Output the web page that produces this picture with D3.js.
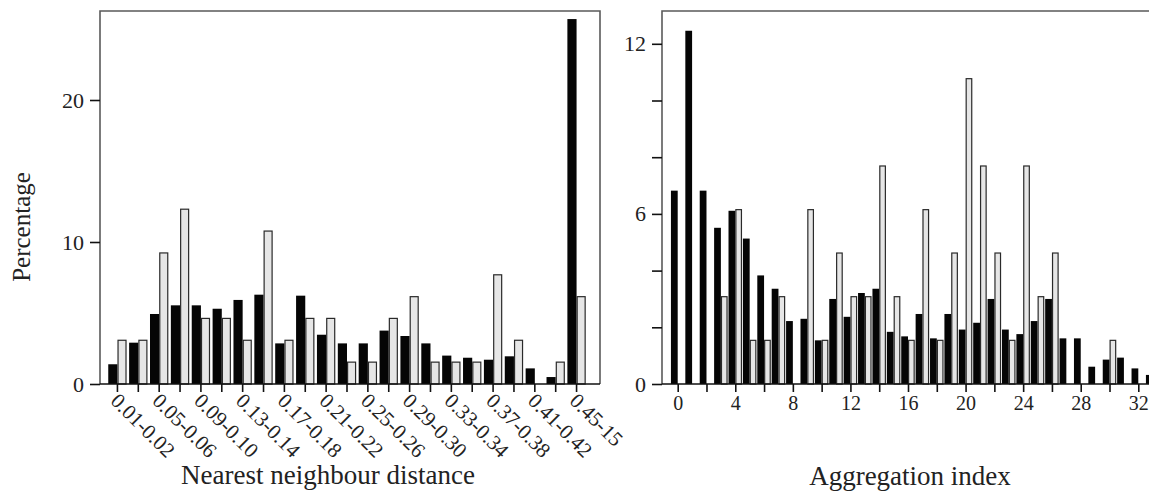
<!DOCTYPE html>
<html>
<head>
<meta charset="utf-8">
<script src="https://cdn.jsdelivr.net/npm/d3@7"></script>
<style>
    body { margin: 0; background: #fff; }
    svg { display: block; font-family: "Liberation Serif", "Times New Roman", serif; }
    .domain { display: none; }
</style>
</head>
<body>
<div id="container"></div>
<script>
// nearest neighbour distance classes (left panel)
var nndCategories = ["0.01-0.02", "0.03-0.04", "0.05-0.06", "0.07-0.08", "0.09-0.10", "0.11-0.12",
    "0.13-0.14", "0.15-0.16", "0.17-0.18", "0.19-0.20", "0.21-0.22", "0.23-0.24", "0.25-0.26",
    "0.27-0.28", "0.29-0.30", "0.31-0.32", "0.33-0.34", "0.35-0.36", "0.37-0.38", "0.39-0.40",
    "0.41-0.42", "0.43-0.44", "0.45-15"];
var nndBlack = [1.39, 2.91, 4.93, 5.54, 5.54, 5.30, 5.92, 6.29, 2.86, 6.22, 3.47, 2.86, 2.86,
    3.76, 3.38, 2.86, 2.00, 1.85, 1.71, 1.95, 1.10, 0.49, 25.7];
var nndGrey = [3.08, 3.08, 9.23, 12.31, 4.62, 4.62, 3.08, 10.77, 3.08, 4.62, 4.62, 1.54, 1.54,
    4.62, 6.15, 1.54, 1.54, 1.54, 7.69, 3.08, 0, 1.54, 6.15];
var nndTicks = [0, 10, 20];

// aggregation index (right panel)
var aggIndex = d3.range(0, 34);
var aggBlack = [6.82, 12.46, 6.82, 5.51, 6.11, 5.13, 3.83, 3.36, 2.22, 2.30, 1.54, 3.00, 2.37,
    3.21, 3.36, 1.84, 1.68, 2.47, 1.61, 2.47, 1.92, 2.16, 3.00, 1.92, 1.76, 2.22, 3.00, 1.61,
    1.61, 0.61, 0.86, 0.93, 0.55, 0.32];
var aggGrey = [0, 0, 0, 3.08, 6.15, 1.54, 1.54, 3.08, 0, 6.15, 1.54, 4.62, 3.08, 3.08, 7.69,
    3.08, 1.54, 6.15, 1.54, 4.62, 10.77, 7.69, 4.62, 1.54, 7.69, 3.08, 4.62, 0, 0, 0, 1.54, 0, 0, 0];
var aggYTicks = [0, 2, 4, 6, 8, 10, 12];
var aggXTicks = d3.range(0, 34, 2);

var width = 1149;
var height = 498;
var plotTop = 11, plotBottom = 384;

var svg = d3.select("#container")
    .append("svg")
    .attr("width", width)
    .attr("height", height);

// ---------- left panel ----------
var left = {x0: 100, x1: 600};

var xL = d3.scaleBand()
    .domain(nndCategories)
    .range([107, 587])
    .paddingInner(0.12)
    .paddingOuter(0.06);
var xSub = d3.scaleBand()
    .domain(["black", "grey"])
    .range([0, xL.bandwidth()]);
var yL = d3.scaleLinear()
    .domain([0, (plotBottom - plotTop) / 14.2])
    .range([plotBottom, plotTop]);

var nndRows = nndCategories.map((c, i) => ({cat: c, black: nndBlack[i], grey: nndGrey[i]}));

var gL = svg.append("g");
var pairL = gL.selectAll("g.pair")
    .data(nndRows)
    .enter()
    .append("g")
    .attr("class", "pair")
    .attr("transform", d => "translate(" + xL(d.cat) + ",0)");
pairL.append("rect")
    .attr("x", xSub("black"))
    .attr("y", d => yL(d.black))
    .attr("width", xSub.bandwidth())
    .attr("height", d => yL(0) - yL(d.black))
    .attr("fill", "#050505");
pairL.filter(d => d.grey > 0).append("rect")
    .attr("x", xSub("grey") + 0.6)
    .attr("y", d => yL(d.grey))
    .attr("width", xSub.bandwidth() - 1.2)
    .attr("height", d => yL(0) - yL(d.grey))
    .attr("fill", "#e6e6e6")
    .attr("stroke", "#2a2a2a")
    .attr("stroke-width", 1.2);

// frame
gL.append("path")
    .attr("d", "M" + left.x0 + "," + plotBottom + "V" + plotTop + "H" + left.x1 + "V" + plotBottom)
    .attr("fill", "none")
    .attr("stroke", "#5a5a5a")
    .attr("stroke-width", 1.6);
gL.append("line")
    .attr("x1", left.x0).attr("x2", left.x1)
    .attr("y1", plotBottom).attr("y2", plotBottom)
    .attr("stroke", "#111").attr("stroke-width", 1.6);

// y axis
var yAxisL = gL.append("g")
    .attr("transform", "translate(" + left.x0 + ",0)")
    .call(d3.axisLeft(yL).tickValues(nndTicks).tickSize(10).tickPadding(6));
yAxisL.selectAll("line").attr("stroke", "#111").attr("stroke-width", 1.6);
yAxisL.selectAll("text").attr("font-size", 22).attr("fill", "#222").attr("font-family", "Liberation Serif");

// x axis
var xAxisL = gL.append("g")
    .attr("transform", "translate(0," + plotBottom + ")")
    .call(d3.axisBottom(xL).tickSize(8).tickFormat(""));
xAxisL.selectAll("line").attr("stroke", "#111").attr("stroke-width", 1.6);

gL.selectAll("text.cat")
    .data(nndCategories.filter((c, i) => i % 2 === 0))
    .enter()
    .append("text")
    .attr("class", "cat")
    .attr("transform", d => "translate(" + (xL(d) + xL.bandwidth() / 2 - 8) + ",402) rotate(45)")
    .attr("font-size", 21)
    .attr("fill", "#222")
    .text(d => d);

gL.append("text")
    .attr("transform", "translate(30,227) rotate(-90)")
    .attr("text-anchor", "middle")
    .attr("font-size", 25)
    .attr("fill", "#222")
    .text("Percentage");

gL.append("text")
    .attr("x", 328)
    .attr("y", 484)
    .attr("text-anchor", "middle")
    .attr("font-size", 27)
    .attr("fill", "#222")
    .text("Nearest neighbour distance");

// ---------- right panel ----------
var right = {x0: 662, x1: 1165};

var xR = d3.scaleLinear()
    .domain([0, 32])
    .range([677.7, 1138.3]);
var yR = d3.scaleLinear()
    .domain([0, (plotBottom - plotTop) / 28.35])
    .range([plotBottom, plotTop]);
var barW = (xR(1) - xR(0)) * 0.47;

var aggRows = aggIndex.map((v, i) => ({v: v, black: aggBlack[i], grey: aggGrey[i]}));

var gR = svg.append("g");
gR.selectAll("rect.black")
    .data(aggRows)
    .enter()
    .append("rect")
    .attr("class", "black")
    .attr("x", d => xR(d.v) - barW)
    .attr("y", d => yR(d.black))
    .attr("width", barW)
    .attr("height", d => yR(0) - yR(d.black))
    .attr("fill", "#050505");
gR.selectAll("rect.grey")
    .data(aggRows.filter(d => d.grey > 0))
    .enter()
    .append("rect")
    .attr("class", "grey")
    .attr("x", d => xR(d.v) + 0.6)
    .attr("y", d => yR(d.grey))
    .attr("width", barW - 1.2)
    .attr("height", d => yR(0) - yR(d.grey))
    .attr("fill", "#e6e6e6")
    .attr("stroke", "#2a2a2a")
    .attr("stroke-width", 1.2);

gR.append("path")
    .attr("d", "M" + right.x0 + "," + plotBottom + "V" + plotTop + "H" + right.x1)
    .attr("fill", "none")
    .attr("stroke", "#5a5a5a")
    .attr("stroke-width", 1.6);
gR.append("line")
    .attr("x1", right.x0).attr("x2", right.x1)
    .attr("y1", plotBottom).attr("y2", plotBottom)
    .attr("stroke", "#111").attr("stroke-width", 1.6);

var yAxisR = gR.append("g")
    .attr("transform", "translate(" + right.x0 + ",0)")
    .call(d3.axisLeft(yR).tickValues(aggYTicks).tickSize(10).tickPadding(6)
        .tickFormat(d => d % 6 === 0 ? d : ""));
yAxisR.selectAll("line").attr("stroke", "#111").attr("stroke-width", 1.6);
yAxisR.selectAll("text").attr("font-size", 22).attr("fill", "#222").attr("font-family", "Liberation Serif");

var xAxisR = gR.append("g")
    .attr("transform", "translate(0," + plotBottom + ")")
    .call(d3.axisBottom(xR).tickValues(aggXTicks).tickSize(8).tickPadding(4)
        .tickFormat(d => d % 4 === 0 ? d : ""));
xAxisR.selectAll("line").attr("stroke", "#111").attr("stroke-width", 1.6);
xAxisR.selectAll("text").attr("font-size", 20).attr("fill", "#222").attr("font-family", "Liberation Serif");

gR.append("text")
    .attr("x", 910)
    .attr("y", 485)
    .attr("text-anchor", "middle")
    .attr("font-size", 27)
    .attr("fill", "#222")
    .text("Aggregation index");
</script>
</body>
</html>
